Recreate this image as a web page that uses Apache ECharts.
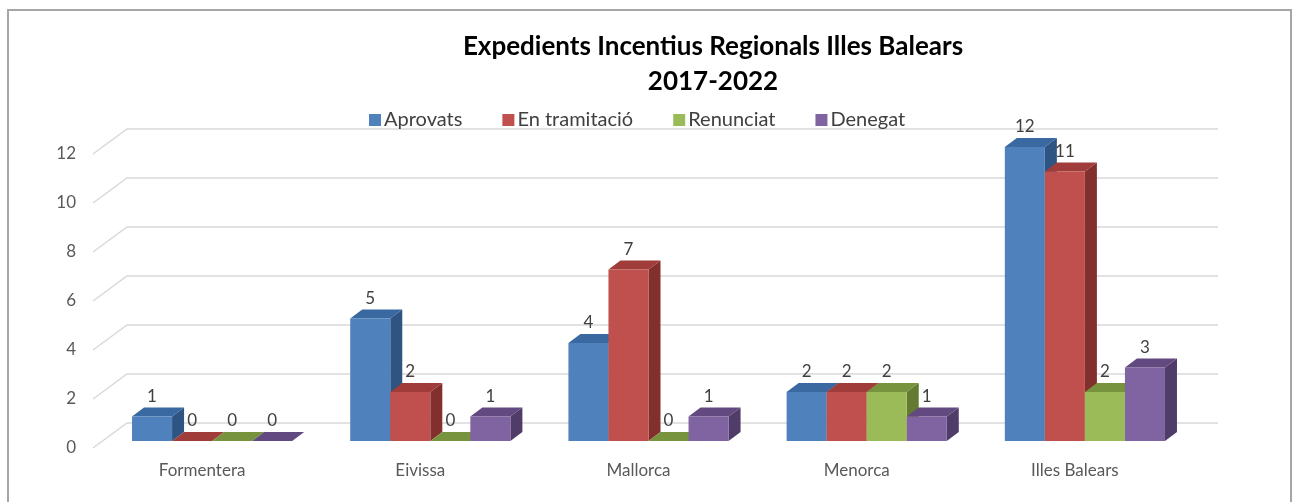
<!DOCTYPE html>
<html>
<head>
<meta charset="utf-8">
<script src="https://cdn.jsdelivr.net/npm/echarts@6/dist/echarts.min.js"></script>
<style>
  html, body { margin: 0; padding: 0; background: #fff; }
  #chart { width: 1295px; height: 502px; }
</style>
</head>
<body>
<div id="chart"></div>
<script>
// dades del gràfic
const categories = ['Formentera', 'Eivissa', 'Mallorca', 'Menorca', 'Illes Balears'];
const aprovats = [1, 5, 4, 2, 12];
const enTramitacio = [0, 2, 7, 2, 11];
const renunciat = [0, 0, 0, 2, 2];
const denegat = [0, 1, 1, 1, 3];
const yTicks = [0, 2, 4, 6, 8, 10, 12];
const seriesNames = ['Aprovats', 'En tramitació', 'Renunciat', 'Denegat'];
const seriesValues = [aprovats, enTramitacio, renunciat, denegat];

// colors cara frontal / superior / lateral
const frontColors = ['#4F81BD', '#C0504D', '#9BBB59', '#8064A2'];
const topColors = ['#3A68A0', '#A03C39', '#77933D', '#62497F'];
const sideColors = ['#2E5482', '#82302D', '#627A31', '#4F3C69'];

const FONT = 'Lato, "Open Sans", sans-serif';
const chart = echarts.init(document.getElementById('chart'));

// profunditat de la barra
const DX = 12, DY = -9;
// desplaçament de les barres dins del terra
const OX = 10, OY = -7;
// fons de la paret
const WX = 34, WY = -25;

const barRenderer = (s) => (params, api) => {
    const i = api.value(0);
    const v = api.value(1);
    const top = api.coord([i, v]);
    const base = api.coord([i, 0]);
    const band = api.size([1, 0])[0];
    const w = band * 0.1835;
    const x0 = top[0] - 2 * w + s * w + OX;
    const yb = base[1] + OY;
    const yt = top[1] + OY;
    return {
        type: 'group',
        children: [
            {
                type: 'polygon',
                shape: { points: [[x0 + w, yb], [x0 + w + DX, yb + DY], [x0 + w + DX, yt + DY], [x0 + w, yt]] },
                style: { fill: sideColors[s] }
            },
            {
                type: 'polygon',
                shape: { points: [[x0, yt], [x0 + DX, yt + DY], [x0 + w + DX, yt + DY], [x0 + w, yt]] },
                style: { fill: topColors[s] }
            },
            {
                type: 'rect',
                shape: { x: x0, y: yt, width: w, height: yb - yt },
                style: { fill: frontColors[s] }
            },
            {
                type: 'text',
                style: {
                    text: String(v), x: x0 + w / 2, y: yt + DY - 11,
                    align: 'center', verticalAlign: 'middle',
                    fill: '#404040', font: '17px ' + FONT
                }
            }
        ]
    };
};

const gridRenderer = (params, api) => {
    const cs = params.coordSys;
    const y = api.coord([0, api.value(1)])[1];
    return {
        type: 'polyline',
        shape: { points: [[cs.x, y], [cs.x + WX, y + WY], [cs.x + cs.width + WX, y + WY]] },
        style: { stroke: '#D9D9D9', lineWidth: 1.5, fill: null }
    };
};

const series = [{
    type: 'custom',
    name: 'grid',
    silent: true,
    z: 1,
    renderItem: gridRenderer,
    data: yTicks.map(t => [0, t])
}];
seriesNames.forEach((name, s) => {
    series.push({
        type: 'custom',
        name: name,
        z: 2 + s,
        itemStyle: { color: frontColors[s] },
        renderItem: barRenderer(s),
        data: seriesValues[s].map((v, i) => [i, v])
    });
});

const option = {
    animation: false,
    backgroundColor: '#fff',
    title: [
        {
            text: 'Expedients Incentius Regionals Illes Balears',
            left: 708, top: 29, textAlign: 'center',
            textStyle: { fontFamily: FONT, fontSize: 26, fontWeight: 'bold', color: '#000' }
        },
        {
            text: '2017-2022',
            left: 708, top: 64, textAlign: 'center',
            textStyle: { fontFamily: FONT, fontSize: 26, fontWeight: 'bold', color: '#000' }
        }
    ],
    legend: {
        data: seriesNames,
        left: 364, top: 105,
        icon: 'rect', itemWidth: 12, itemHeight: 12, itemGap: 40,
        textStyle: { fontFamily: FONT, fontSize: 20, color: '#404040', padding: [0, 0, 0, -2] }
    },
    grid: { left: 93, right: 111, top: 154, bottom: 54 },
    xAxis: {
        type: 'category',
        data: categories,
        axisLine: { show: false },
        axisTick: { show: false },
        axisLabel: { color: '#595959', fontFamily: FONT, fontSize: 17, margin: 14 }
    },
    yAxis: {
        type: 'value',
        min: 0, max: 12, interval: 2,
        axisLine: { show: false },
        axisTick: { show: false },
        splitLine: { show: false },
        axisLabel: { color: '#595959', fontFamily: FONT, fontSize: 17, margin: 17 }
    },
    graphic: [{
        type: 'rect',
        shape: { x: 8, y: 10, width: 1283, height: 520 },
        style: { fill: null, stroke: '#A6A6A6', lineWidth: 2 },
        silent: true
    }],
    series: series
};
chart.setOption(option);
</script>
</body>
</html>
